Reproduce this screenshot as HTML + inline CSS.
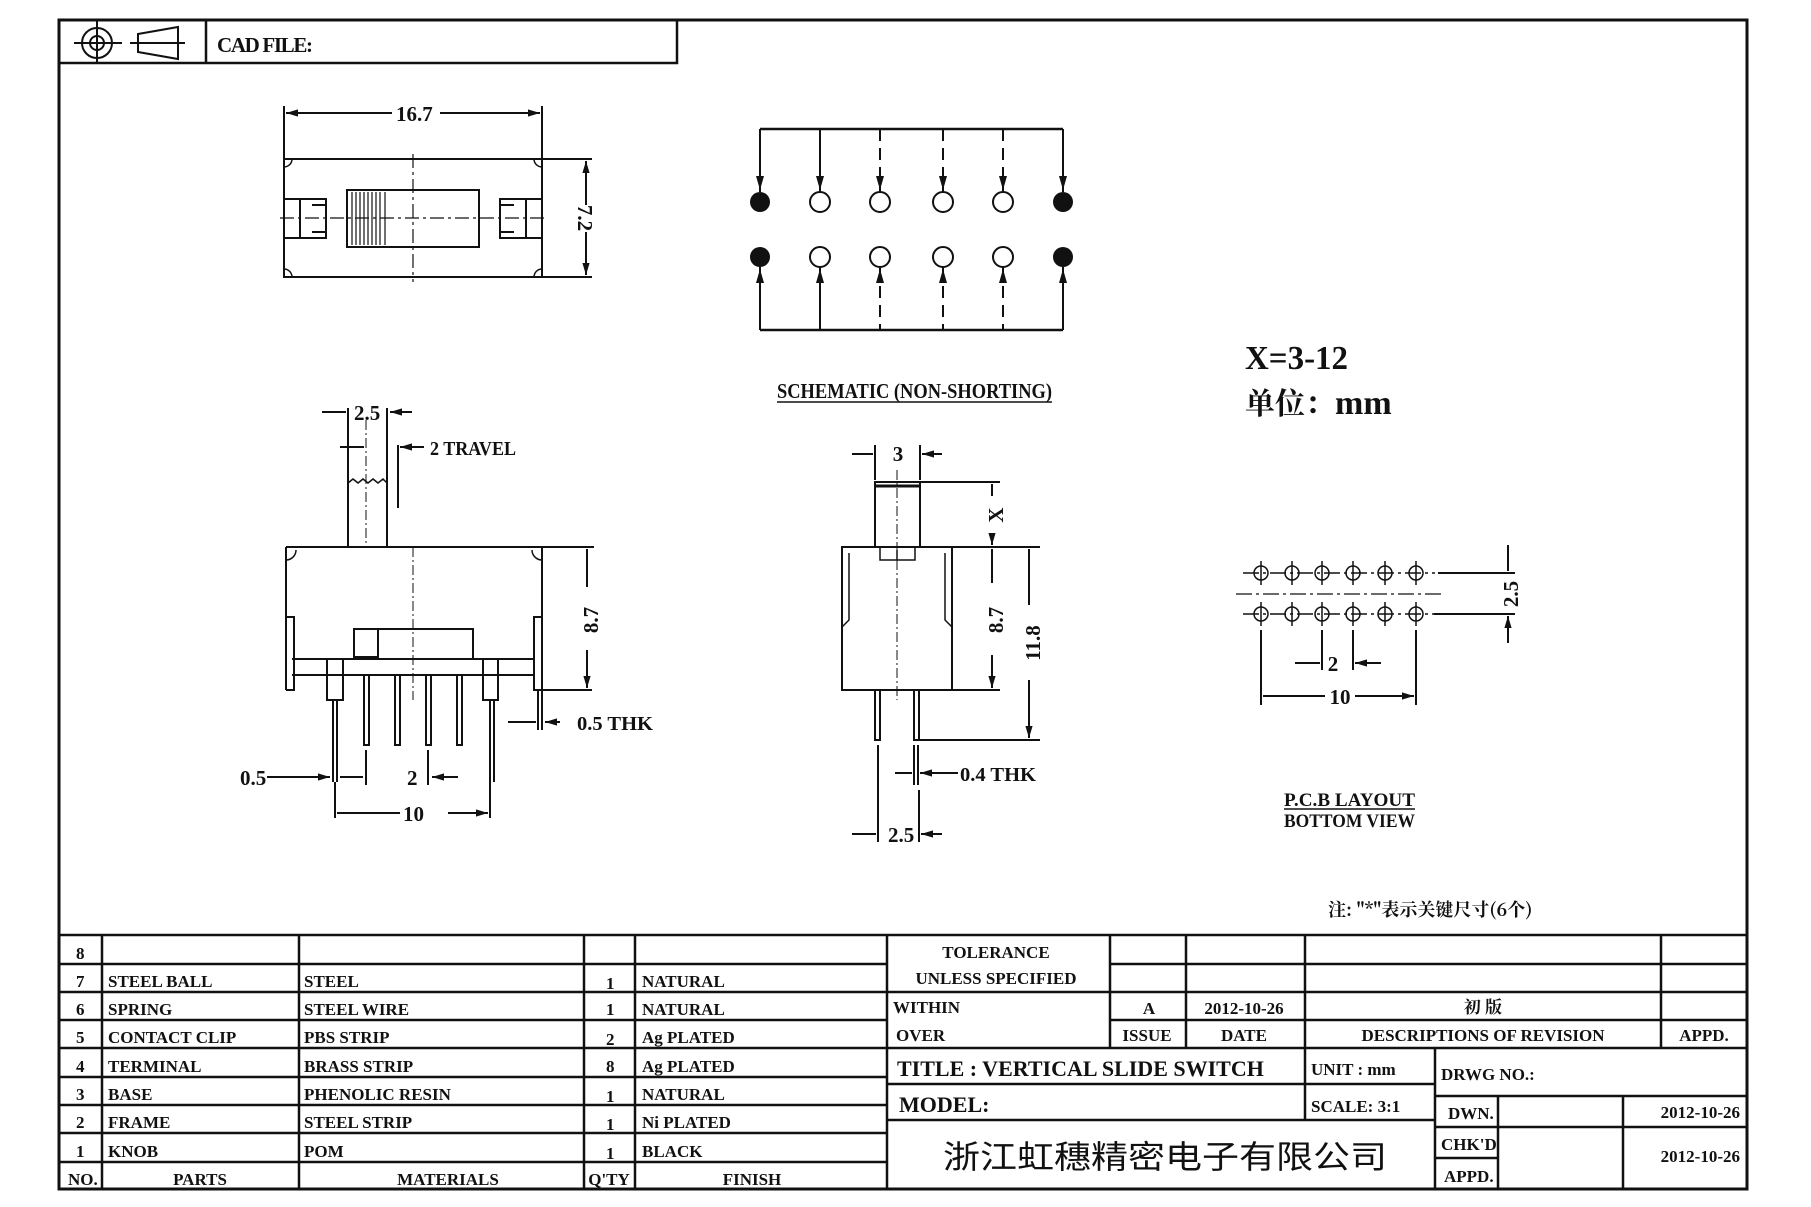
<!DOCTYPE html>
<html><head><meta charset="utf-8"><style>
html,body{margin:0;padding:0;background:#fff}
svg{display:block}
text{font-family:"Liberation Serif","Noto Serif CJK SC",serif;font-weight:bold;fill:#111}
.t{font-size:17px}
</style></head><body>
<svg width="1811" height="1207" viewBox="0 0 1811 1207" xmlns="http://www.w3.org/2000/svg">
<defs>
<marker id="a" viewBox="0 0 10 10" refX="10" refY="5" markerWidth="8" markerHeight="6" orient="auto-start-reverse"><path d="M0,2 L10,5 L0,8 z" fill="#111"/></marker>
</defs>
<g stroke="#111" fill="none" stroke-width="2">
<rect x="59" y="20" width="1688" height="1169" stroke-width="3"/>
<path d="M59 63 H677 V20 M206 20 V63" stroke-width="2.5"/>
<circle cx="97" cy="43" r="15"/><circle cx="97" cy="43" r="7"/>
<path d="M74 43 H122 M97 20 V63"/>
<path d="M138 34 L178 27 L178 59 L138 52 Z M130 43 H185"/>

<path d="M284 106 V159 M542 106 V159"/>
<path d="M286 113 H392 M440 113 H540" marker-start="url(#a)" marker-end="url(#a)"/>
<rect x="284" y="159" width="258" height="118"/>
<path d="M542 159 H592 M542 277 H592"/>
<path d="M586 161 V205 M586 232 V275" marker-start="url(#a)" marker-end="url(#a)"/>
<rect x="347" y="190" width="132" height="57"/>
<path d="M352 192 V245 M356 192 V245 M360 192 V245 M364 192 V245 M368 192 V245 M372 192 V245 M376 192 V245 M380 192 V245 M385 192 V245" stroke-width="1.2"/>
<path d="M280 218 H548 M413 154 V282" stroke-width="1.2" stroke-dasharray="14,4,3,4"/>
<path d="M284 199 H326 V238 H284 M300 199 V238 M312 205 H326 M312 232 H326"/>
<path d="M542 199 H500 V238 H542 M526 199 V238 M500 205 H514 M500 232 H514"/>
<path d="M284 167 A8 8 0 0 0 292 159 M542 167 A8 8 0 0 1 534 159 M284 269 A8 8 0 0 1 292 277 M542 269 A8 8 0 0 0 534 277" stroke-width="1.5"/>

<path d="M760 129 H1063 M760 330 H1063" stroke-width="2.5"/>
<path d="M760 129 V192 M820 129 V192 M1063 129 V192 M760 267 V330 M820 267 V330 M1063 267 V330"/>
<path d="M880 129 V192 M943 129 V192 M1003 129 V192 M880 267 V330 M943 267 V330 M1003 267 V330" stroke-dasharray="12,7"/>
<g fill="#111" stroke="none">
<path d="M756 176 L764 176 L760 190Z M816 176 L824 176 L820 190Z M876 176 L884 176 L880 190Z M939 176 L947 176 L943 190Z M999 176 L1007 176 L1003 190Z M1059 176 L1067 176 L1063 190Z"/>
<path d="M756 283 L764 283 L760 269Z M816 283 L824 283 L820 269Z M876 283 L884 283 L880 269Z M939 283 L947 283 L943 269Z M999 283 L1007 283 L1003 269Z M1059 283 L1067 283 L1063 269Z"/>
<circle cx="760" cy="202" r="10"/><circle cx="1063" cy="202" r="10"/>
<circle cx="760" cy="257" r="10"/><circle cx="1063" cy="257" r="10"/>
</g>
<circle cx="820" cy="202" r="10"/><circle cx="880" cy="202" r="10"/><circle cx="943" cy="202" r="10"/><circle cx="1003" cy="202" r="10"/>
<circle cx="820" cy="257" r="10"/><circle cx="880" cy="257" r="10"/><circle cx="943" cy="257" r="10"/><circle cx="1003" cy="257" r="10"/>
<path d="M777 402 H1052" stroke-width="1.5"/>

<path d="M348 408 V547 M387 408 V547 M398 445 V508" />
<path d="M366 420 V547" stroke-width="1" stroke-dasharray="10,3,2,3"/>
<path d="M348 483 l5 -4 l5 4 l5 -4 l5 4 l5 -4 l5 4 l5 -4 l4 4" stroke-width="1.5"/>
<path d="M322 412 H346 M412 412 H390" marker-end="url(#a)"/>
<path d="M340 447 H364 M424 447 H400" marker-end="url(#a)"/>
<path d="M286 547 H594 M286 547 V690 M542 547 V690"/>
<path d="M286 560 A10 10 0 0 0 296 550 M542 560 A10 10 0 0 1 532 550" stroke-width="1.5"/>
<path d="M286 617 H294 V690 H286 M542 617 H534 V690 H542"/>
<path d="M292 659 H534 M292 675 H534"/>
<path d="M327 659 V700 H343 V659 M483 659 V700 H498 V659"/>
<rect x="354" y="629" width="119" height="30"/><rect x="354" y="629" width="24" height="28"/>
<path d="M413 547 V700" stroke-width="1" stroke-dasharray="10,3,2,3"/>
<path d="M333 700 V782 M337 700 V782 M490 700 V782 M494 700 V782"/>
<path d="M364 675 V745 H369 V675 M395 675 V745 H400 V675 M426 675 V745 H431 V675 M457 675 V745 H462 V675"/>
<path d="M542 690 H592 M394 547 H592 M542 690 V730 M538 690 V730"/>
<path d="M587 587 V549 M587 650 V688" marker-end="url(#a)"/>
<path d="M508 722 H536 M560 722 H545" marker-end="url(#a)"/>
<path d="M267 777 H330" marker-end="url(#a)"/>
<path d="M340 777 H363 M458 777 H432" marker-end="url(#a)"/>
<path d="M335 782 V818 M490 782 V818 M366 750 V785 M428 750 V785"/>
<path d="M400 813 H337 M448 813 H488" marker-end="url(#a)"/>

<rect x="875" y="482" width="45" height="65"/>
<path d="M875 486 H920" stroke-width="3"/>
<path d="M842 547 H952 V690 H842 Z"/>
<path d="M849 553 V620 L842 627 M945 553 V620 L952 627" stroke-width="1.5"/>
<path d="M880 547 V560 H915 V547 M897 550 V560" stroke-width="1.5"/>
<path d="M897 470 V700" stroke-width="1" stroke-dasharray="10,3,2,3"/>
<path d="M875 445 V480 M920 445 V480"/>
<path d="M852 454 H873 M942 454 H922" marker-end="url(#a)"/>
<path d="M875 690 V740 H880 V690 M914 690 V740 H919 V690"/>
<path d="M920 482 H1000 M952 547 H1040 M920 740 H1040 M952 690 H1000"/>
<path d="M992 496 V484 M992 533 V545" marker-end="url(#a)"/>
<path d="M992 583 V549 M992 655 V688" marker-end="url(#a)"/>
<path d="M1029 605 V549 M1029 680 V738" marker-end="url(#a)"/>
<path d="M914 745 V785 M918 745 V785 M878 745 V842 M919 790 V842"/>
<path d="M895 773 H912 M958 773 H920" marker-end="url(#a)"/>
<path d="M852 834 H876 M942 834 H921" marker-end="url(#a)"/>

<g stroke-width="1.5">
<circle cx="1261" cy="573" r="7"/><circle cx="1292" cy="573" r="7"/><circle cx="1322" cy="573" r="7"/><circle cx="1353" cy="573" r="7"/><circle cx="1385" cy="573" r="7"/><circle cx="1416" cy="573" r="7"/>
<circle cx="1261" cy="614" r="7"/><circle cx="1292" cy="614" r="7"/><circle cx="1322" cy="614" r="7"/><circle cx="1353" cy="614" r="7"/><circle cx="1385" cy="614" r="7"/><circle cx="1416" cy="614" r="7"/>
<path d="M1243 573 H1435 M1243 614 H1435" stroke-dasharray="16,4,3,4"/>
<path d="M1236 594 H1444" stroke-dasharray="16,4,3,4" stroke-width="1.2"/>
<path d="M1261 561 V585 M1292 561 V585 M1322 561 V585 M1353 561 V585 M1385 561 V585 M1416 561 V585 M1261 602 V626 M1292 602 V626 M1322 602 V626 M1353 602 V626 M1385 602 V626 M1416 602 V626"/>
</g>
<path d="M1438 573 H1515 M1434 614 H1515"/>
<path d="M1508 545 V571 M1508 643 V616" marker-end="url(#a)"/>
<path d="M1261 630 V705 M1416 630 V705 M1322 630 V670 M1353 630 V670"/>
<path d="M1295 663 H1320 M1381 663 H1355" marker-end="url(#a)"/>
<path d="M1325 696 H1263 M1355 696 H1414" marker-end="url(#a)"/>
<path d="M1284 809 H1415" stroke-width="1.5"/>

<path d="M59 935 H1747 M59 964 H887 M59 992 H887 M59 1020 H887 M59 1048 H1747 M59 1077 H887 M59 1105 H887 M59 1133 H887 M59 1162 H887" stroke-width="2.5"/>
<path d="M102 935 V1189 M299 935 V1189 M584 935 V1189 M635 935 V1189 M887 935 V1189" stroke-width="2.5"/>
<path d="M1110 964 H1747 M887 992 H1747 M1110 1020 H1747" stroke-width="2.5"/>
<path d="M1110 935 V1048 M1186 935 V1048 M1305 935 V1048 M1661 935 V1048" stroke-width="2.5"/>
<path d="M887 1084 H1435 M887 1120 H1435 M1305 1048 V1120 M1435 1048 V1189 M1435 1096 H1747 M1435 1127 H1747 M1435 1158 H1498 M1498 1096 V1189 M1623 1096 V1189" stroke-width="2.5"/>
</g>

<text x="217" y="52" font-size="21" textLength="96">CAD FILE:</text>
<text x="396" y="121" font-size="21">16.7</text>
<text transform="translate(578,218) rotate(90)" font-size="21" text-anchor="middle">7.2</text>
<text x="777" y="398" font-size="21" textLength="275" lengthAdjust="spacingAndGlyphs">SCHEMATIC (NON-SHORTING)</text>
<text x="1245" y="369" font-size="34" textLength="103" lengthAdjust="spacingAndGlyphs">X=3-12</text>
<text x="1245" y="414" font-size="30" style="font-family:'Noto Serif CJK SC',serif">单位：<tspan style="font-family:'Liberation Serif',serif" font-size="34">mm</tspan></text>
<text x="354" y="420" font-size="21">2.5</text>
<text x="430" y="455" font-size="20" textLength="86" lengthAdjust="spacingAndGlyphs">2 TRAVEL</text>
<text transform="translate(598,620) rotate(-90)" font-size="21" text-anchor="middle">8.7</text>
<text x="577" y="730" font-size="20" textLength="76" lengthAdjust="spacingAndGlyphs">0.5 THK</text>
<text x="240" y="785" font-size="21">0.5</text>
<text x="407" y="785" font-size="21">2</text>
<text x="403" y="821" font-size="21">10</text>
<text x="898" y="461" font-size="21" text-anchor="middle">3</text>
<text transform="translate(1003,515) rotate(-90)" font-size="21" text-anchor="middle">X</text>
<text transform="translate(1003,620) rotate(-90)" font-size="21" text-anchor="middle">8.7</text>
<text transform="translate(1040,643) rotate(-90)" font-size="21" text-anchor="middle">11.8</text>
<text x="960" y="781" font-size="20" textLength="76" lengthAdjust="spacingAndGlyphs">0.4 THK</text>
<text x="888" y="842" font-size="21">2.5</text>
<text transform="translate(1518,594) rotate(-90)" font-size="21" text-anchor="middle">2.5</text>
<text x="1333" y="671" font-size="21" text-anchor="middle">2</text>
<text x="1340" y="704" font-size="21" text-anchor="middle">10</text>
<text x="1284" y="806" font-size="19" textLength="131" lengthAdjust="spacingAndGlyphs">P.C.B LAYOUT</text>
<text x="1284" y="827" font-size="19" textLength="131" lengthAdjust="spacingAndGlyphs">BOTTOM VIEW</text>
<text x="1328" y="916" font-size="18" style="font-family:'Noto Serif CJK SC',serif">注: "*"表示关键尺寸(6个)</text>

<text x="76" y="959" class="t">8</text>
<text x="76" y="987" class="t">7</text><text x="108" y="987" class="t">STEEL BALL</text><text x="304" y="987" class="t">STEEL</text><text x="606" y="989" class="t">1</text><text x="642" y="987" class="t">NATURAL</text>
<text x="76" y="1015" class="t">6</text><text x="108" y="1015" class="t">SPRING</text><text x="304" y="1015" class="t">STEEL WIRE</text><text x="606" y="1015" class="t">1</text><text x="642" y="1015" class="t">NATURAL</text>
<text x="76" y="1043" class="t">5</text><text x="108" y="1043" class="t">CONTACT CLIP</text><text x="304" y="1043" class="t">PBS STRIP</text><text x="606" y="1045" class="t">2</text><text x="642" y="1043" class="t">Ag PLATED</text>
<text x="76" y="1072" class="t">4</text><text x="108" y="1072" class="t">TERMINAL</text><text x="304" y="1072" class="t">BRASS STRIP</text><text x="606" y="1072" class="t">8</text><text x="642" y="1072" class="t">Ag PLATED</text>
<text x="76" y="1100" class="t">3</text><text x="108" y="1100" class="t">BASE</text><text x="304" y="1100" class="t">PHENOLIC RESIN</text><text x="606" y="1102" class="t">1</text><text x="642" y="1100" class="t">NATURAL</text>
<text x="76" y="1128" class="t">2</text><text x="108" y="1128" class="t">FRAME</text><text x="304" y="1128" class="t">STEEL STRIP</text><text x="606" y="1130" class="t">1</text><text x="642" y="1128" class="t">Ni PLATED</text>
<text x="76" y="1157" class="t">1</text><text x="108" y="1157" class="t">KNOB</text><text x="304" y="1157" class="t">POM</text><text x="606" y="1159" class="t">1</text><text x="642" y="1157" class="t">BLACK</text>
<text x="68" y="1185" class="t">NO.</text><text x="200" y="1185" class="t" text-anchor="middle">PARTS</text><text x="448" y="1185" class="t" text-anchor="middle">MATERIALS</text><text x="609" y="1185" class="t" text-anchor="middle">Q'TY</text><text x="752" y="1185" class="t" text-anchor="middle">FINISH</text>
<text x="996" y="958" class="t" text-anchor="middle">TOLERANCE</text>
<text x="996" y="984" class="t" text-anchor="middle">UNLESS  SPECIFIED</text>
<text x="893" y="1013" class="t">WITHIN</text><text x="896" y="1041" class="t">OVER</text>
<text x="1149" y="1014" class="t" text-anchor="middle">A</text><text x="1244" y="1014" class="t" text-anchor="middle">2012-10-26</text>
<text x="1483" y="1013" class="t" text-anchor="middle" style="font-family:'Noto Serif CJK SC',serif">初  版</text>
<text x="1147" y="1041" class="t" text-anchor="middle">ISSUE</text><text x="1244" y="1041" class="t" text-anchor="middle">DATE</text>
<text x="1483" y="1041" class="t" text-anchor="middle">DESCRIPTIONS OF REVISION</text><text x="1704" y="1041" class="t" text-anchor="middle">APPD.</text>
<text x="897" y="1076" font-size="22">TITLE :  VERTICAL SLIDE SWITCH</text>
<text x="1311" y="1075" class="t">UNIT :  mm</text>
<text x="1441" y="1080" class="t">DRWG NO.:</text>
<text x="899" y="1112" font-size="22">MODEL:</text>
<text x="1311" y="1112" class="t">SCALE:  3:1</text>
<text x="1448" y="1119" class="t">DWN.</text><text x="1740" y="1118" class="t" text-anchor="end">2012-10-26</text>
<text x="1441" y="1150" class="t">CHK'D</text><text x="1740" y="1162" class="t" text-anchor="end">2012-10-26</text>
<text x="1444" y="1182" class="t">APPD.</text>
<text x="943" y="1168" font-size="32" textLength="444" lengthAdjust="spacingAndGlyphs" style="font-family:'Noto Sans CJK SC',sans-serif;font-weight:normal">浙江虹穗精密电子有限公司</text>
</svg>
</body></html>
